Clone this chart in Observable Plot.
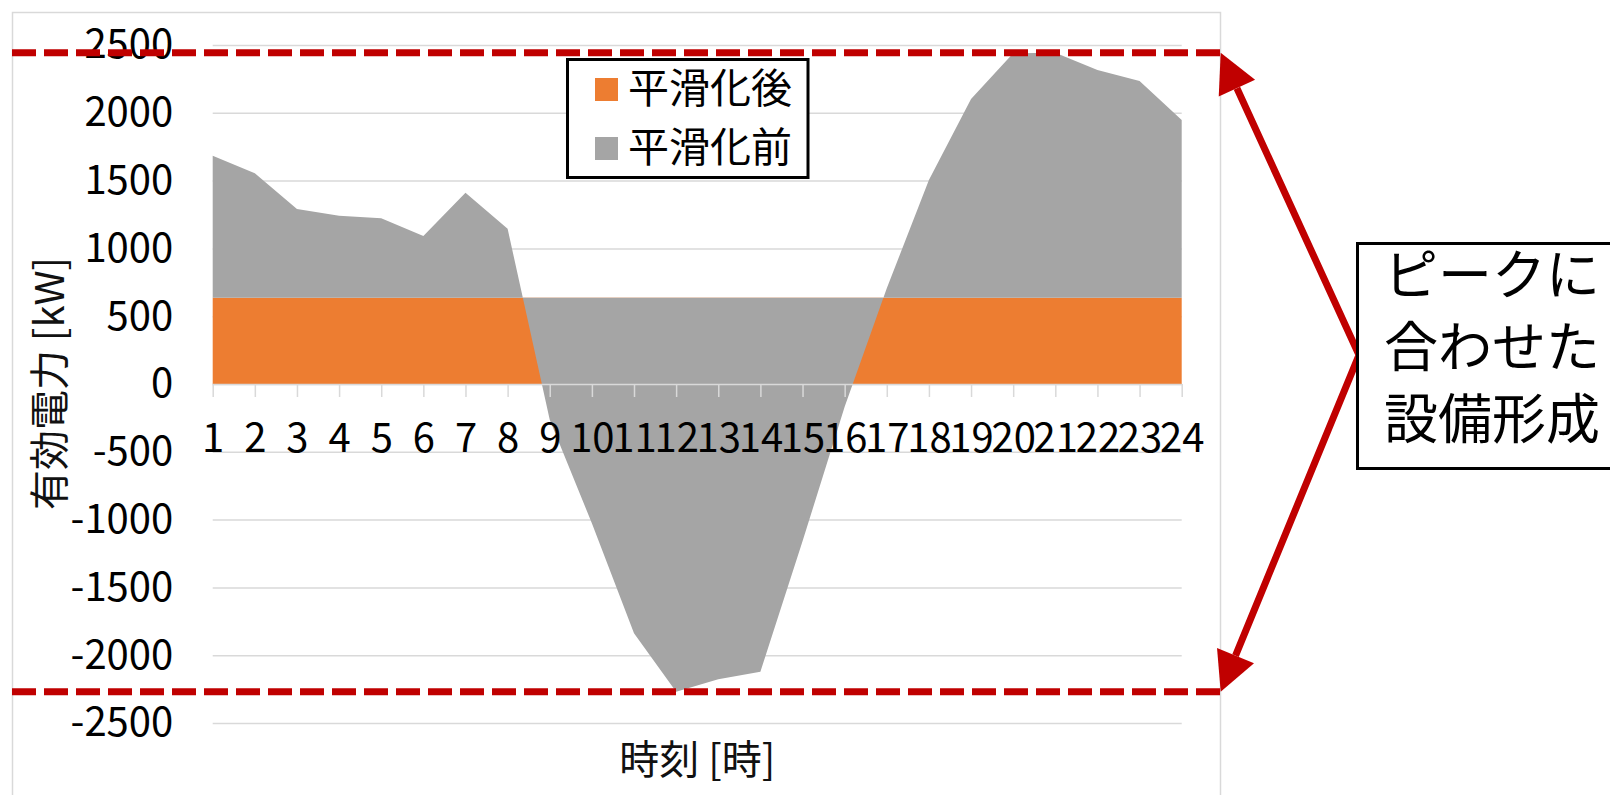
<!DOCTYPE html>
<html><head><meta charset="utf-8">
<script src="https://cdn.jsdelivr.net/npm/d3@7"></script>
<script src="https://cdn.jsdelivr.net/npm/@observablehq/plot@0.6"></script>
<style>
html,body{margin:0;padding:0;background:#fff;}
#chart{position:relative;width:1610px;height:795px;overflow:hidden;}
</style></head><body><div id="chart"></div>
<script>
// ---- data ----
const hours = [1,2,3,4,5,6,7,8,9,10,11,12,13,14,15,16,17,18,19,20,21,22,23,24];
const beforeSmoothing = [1684,1554,1291,1241,1222,1091,1411,1145,-263,-1027,-1838,-2269,-2178,-2122,-1160,-167,706,1504,2102,2439,2443,2316,2235,1947];
const afterSmoothing = [636,636,636,636,636,636,636,636,636,636,636,636,636,636,636,636,636,636,636,636,636,636,636,636];
const yTicks = [-2500,-2000,-1500,-1000,-500,0,500,1000,1500,2000,2500];
const seriesNames = ["平滑化後","平滑化前"];
const seriesColors = ["#ED7D31","#A5A5A5"];
const xTitle = "時刻 [時]";
const yTitle = "有効電力 [kW]";
const noteLines = ["ピークに","合わせた","設備形成"];

const font = "'Noto Sans CJK JP', 'Noto Sans', sans-serif";
const table = hours.map((h,i)=>({hour:h, before:beforeSmoothing[i], after:afterSmoothing[i]}));

const plot = Plot.plot({
  width:1610, height:795,
  marginLeft:212.7, marginRight:428.3, marginTop:45, marginBottom:72,
  style:{fontFamily:font, fontSize:"40px", color:"#000", background:"white", overflow:"visible"},
  x:{type:"linear", domain:[1,24], axis:null},
  y:{domain:[-2500,2500]},
  marks:[
    Plot.gridY(yTicks,{stroke:"#d9d9d9", strokeOpacity:1, strokeWidth:1.5}),
    Plot.areaY(table,{x:"hour", y1:0, y2:"after", fill:seriesColors[0]}),
    Plot.areaY(table,{x:"hour", y1:"after", y2:"before", fill:seriesColors[1]}),
    Plot.ruleY([0],{stroke:"#d9d9d9", strokeWidth:1.5}),
    Plot.ruleX(hours,{x:d=>d, y1:0, y2:0, insetBottom:-13, stroke:"#d9d9d9", strokeWidth:1.5}),
    Plot.text(hours,{x:d=>d, y:0, text:d=>String(d), lineAnchor:"top", dy:39, fontSize:40, fill:"#000"}),
    Plot.axisY(yTicks,{tickSize:0, tickPadding:40, tickFormat:d=>String(d), fontSize:40, fill:"#000", label:null})
  ]
});
document.getElementById("chart").appendChild(plot);

// ---- annotations ----
const svg = d3.select(plot);
const Y = v => plot.scale("y").apply(v);
const g = svg.append("g").attr("text-anchor","start");

// chart border
g.append("rect").attr("x",12.5).attr("y",12.5).attr("width",1208).attr("height",900)
  .attr("fill","none").attr("stroke","#d9d9d9").attr("stroke-width",1.5);

// titles
g.append("text").attr("transform",`translate(49,383.5) rotate(-90)`).attr("y",15.2)
  .attr("text-anchor","middle").attr("font-family",font).attr("font-size",40).attr("fill","#111").text(yTitle);
g.append("text").attr("x",697.2).attr("y",773.5)
  .attr("text-anchor","middle").attr("font-family",font).attr("font-size",40).attr("fill","#111").text(xTitle);

// legend
const lg = g.append("g");
lg.append("rect").attr("x",567.5).attr("y",59.5).attr("width",240.5).attr("height",118)
  .attr("fill","white").attr("stroke","#000").attr("stroke-width",3);
seriesNames.forEach((name,i)=>{
  const cy = 89.5 + i*59;
  lg.append("rect").attr("x",595).attr("y",cy-11.5).attr("width",23).attr("height",23).attr("fill",seriesColors[i]);
  lg.append("text").attr("x",628).attr("y",cy+13).attr("text-anchor","start").attr("font-family",font)
    .attr("font-size",41).attr("fill","#000").text(name);
});

// dashed peak lines
const [minV,maxV] = d3.extent(beforeSmoothing);
const yTop = Y(maxV), yBot = Y(minV);
[yTop,yBot].forEach(yy=>{
  g.append("line").attr("x1",12).attr("x2",1220).attr("y1",yy).attr("y2",yy)
    .attr("stroke","#c00000").attr("stroke-width",7).attr("stroke-dasharray","24 8");
});

// arrows
const S = [1359,355];
function arrow(T){
  const dx=T[0]-S[0], dy=T[1]-S[1], L=Math.hypot(dx,dy);
  const ux=dx/L, uy=dy/L, nx=-uy, ny=ux;
  const B=[T[0]-39*ux, T[1]-39*uy];
  return {B, tri:[[T[0],T[1]],[B[0]+20*nx,B[1]+20*ny],[B[0]-20*nx,B[1]-20*ny]]};
}
const a1 = arrow([1220.7,yTop]), a2 = arrow([1220.7,yBot]);
g.append("path").attr("d",`M${a1.B[0]},${a1.B[1]}L${S[0]},${S[1]}L${a2.B[0]},${a2.B[1]}`)
  .attr("fill","none").attr("stroke","#c00000").attr("stroke-width",7).attr("stroke-linejoin","miter");
[a1,a2].forEach(a=>{
  g.append("path").attr("d","M"+a.tri.map(p=>p.join(",")).join("L")+"Z").attr("fill","#c00000");
});

// note box
g.append("rect").attr("x",1357.5).attr("y",243.5).attr("width",400).attr("height",225)
  .attr("fill","white").attr("stroke","#000").attr("stroke-width",3);
noteLines.forEach((t,i)=>{
  g.append("text").attr("x",1384).attr("y",294.5+i*72.3).attr("text-anchor","start").attr("font-family",font)
    .attr("font-size",54).attr("fill","#000").text(t);
});
</script>
</body></html>
